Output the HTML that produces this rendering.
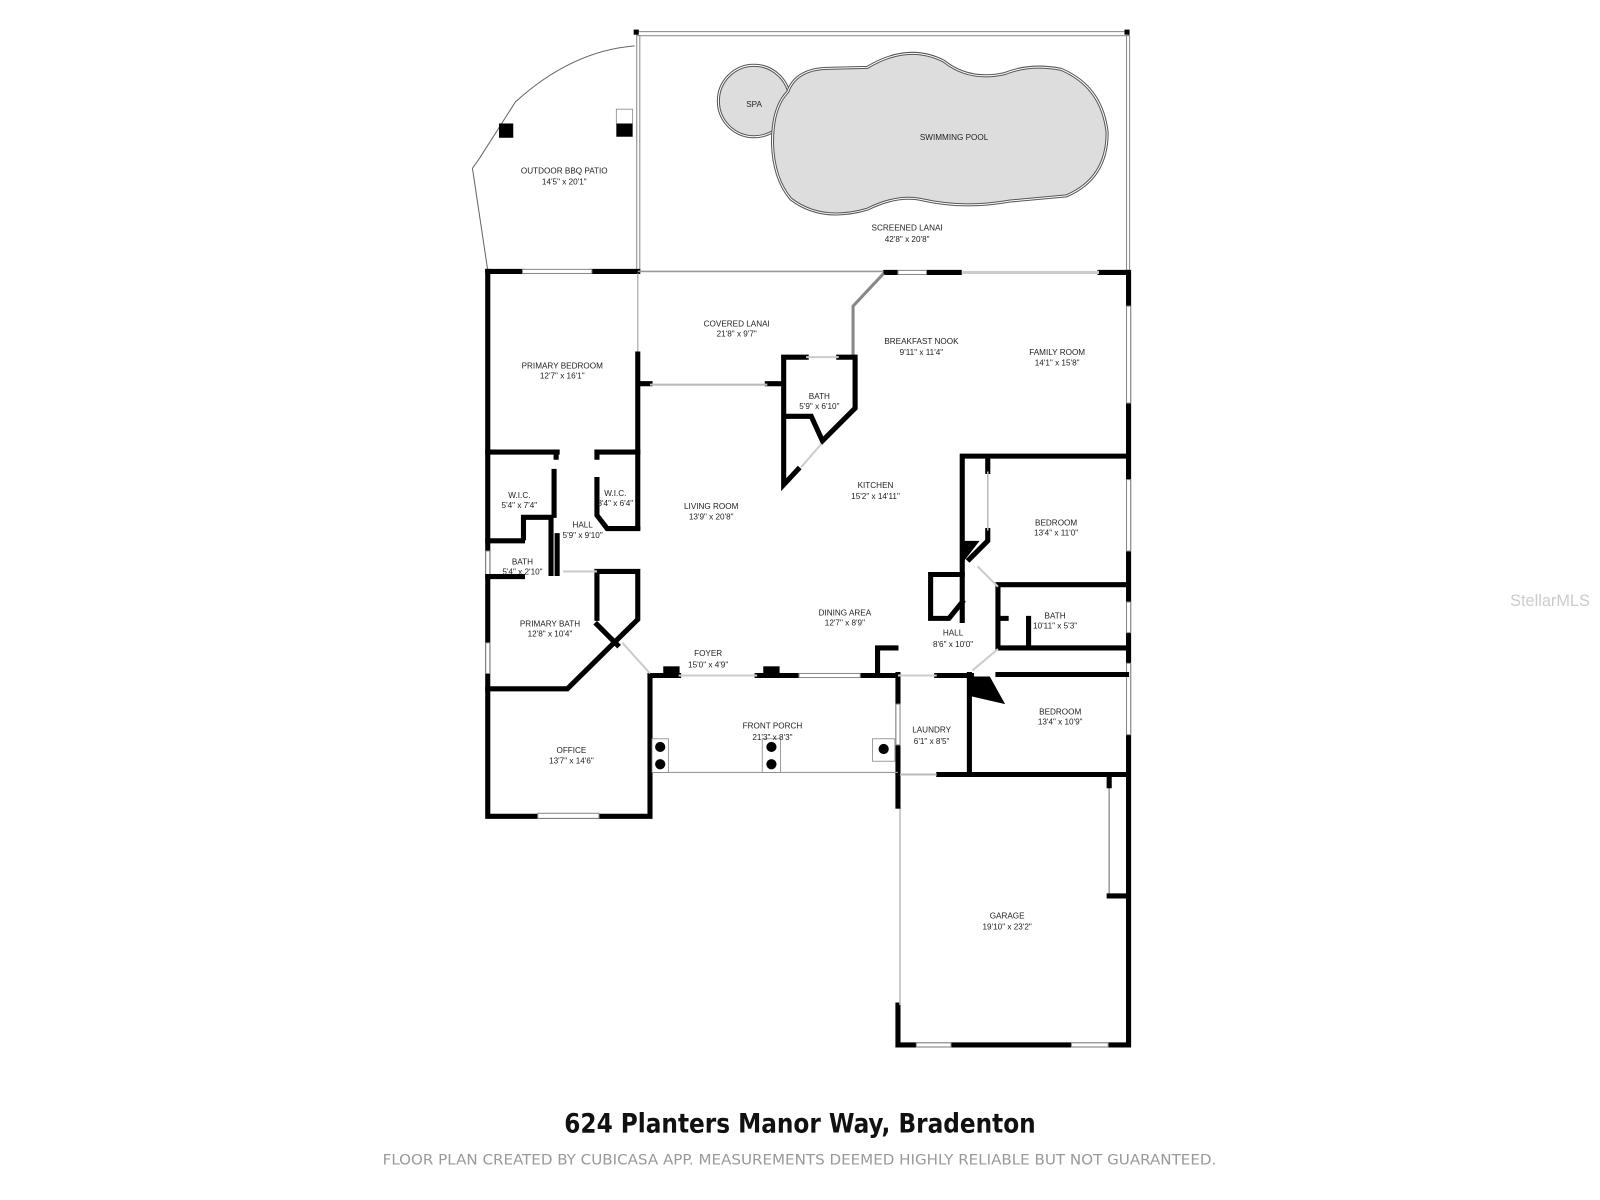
<!DOCTYPE html>
<html><head><meta charset="utf-8"><style>
html,body{margin:0;padding:0;background:#fff;width:1600px;height:1200px;overflow:hidden}
svg{display:block}
.t{font-family:"Liberation Sans",sans-serif;font-size:8px;fill:#222;text-anchor:middle}
.w{stroke:#000;stroke-width:5;fill:none;stroke-linecap:square}
.win{stroke:#888;stroke-width:1;fill:#fff}
</style></head><body>
<svg width="1600" height="1200" viewBox="0 0 1568 1176" xmlns="http://www.w3.org/2000/svg">
<rect x="624" y="31" width="482" height="4" class="win"/>
<rect x="621" y="29" width="5" height="5" fill="#000"/><rect x="1102" y="29" width="5" height="5" fill="#000"/>
<rect x="624" y="35" width="3" height="230" class="win"/>
<rect x="1104" y="35" width="3" height="230" class="win"/>
<path d="M622,45 Q560,50 505,100 L470,155 L463,165 L478,265" stroke="#666" stroke-width="1" fill="none"/>
<rect x="489" y="121" width="14" height="14" fill="#000"/>
<rect x="604" y="121" width="16" height="13" fill="#000"/>
<rect x="604" y="107" width="16" height="14" fill="#fff" stroke="#888" stroke-width="0.8"/>
<circle cx="739" cy="99" r="35" fill="#ddd" stroke="#555" stroke-width="3"/>
<circle cx="739" cy="99" r="35" fill="none" stroke="#fff" stroke-width="1"/>
<path d="M772,90 Q780,68 810,67 L850,66 Q890,42 925,60 Q950,80 985,72 Q1010,62 1040,68 Q1080,85 1085,130 Q1085,175 1045,192 L990,197 Q945,205 905,196 Q880,190 850,205 Q805,218 775,195 Q758,175 757,140 Q757,105 772,90 Z" fill="#ddd" stroke="#555" stroke-width="3"/>
<path d="M772,90 Q780,68 810,67 L850,66 Q890,42 925,60 Q950,80 985,72 Q1010,62 1040,68 Q1080,85 1085,130 Q1085,175 1045,192 L990,197 Q945,205 905,196 Q880,190 850,205 Q805,218 775,195 Q758,175 757,140 Q757,105 772,90 Z" fill="none" stroke="#fff" stroke-width="1"/>
<path class="w" d="M478,266 L512,266 M580,266 L625,266 M868,267 L878,267 M910,267 L940,267 M1078,267 L1104,267"/>
<rect x="512" y="264" width="68" height="4" class="win"/>
<rect x="880" y="265" width="28" height="4" class="win"/>
<line x1="625" y1="266" x2="866" y2="266" stroke="#999" stroke-width="1.5"/>
<line x1="943" y1="267" x2="1077" y2="267" stroke="#ccc" stroke-width="3"/>
<path d="M866,268 L836,300 L836,350" stroke="#888" stroke-width="3" fill="none"/>
<path class="w" d="M478,266 L478,800 L637,800 L637,663"/>
<rect x="527" y="797" width="60" height="5" class="win"/>
<rect x="476" y="540" width="4" height="26" class="win"/>
<rect x="476" y="630" width="4" height="30" class="win"/>
<path class="w" d="M1106,267 L1106,1024 L880,1024 L880,985"/>
<rect x="1104" y="300" width="4" height="95" class="win"/>
<rect x="1104" y="470" width="4" height="70" class="win"/>
<rect x="1104" y="590" width="4" height="30" class="win"/>
<rect x="1104" y="650" width="4" height="70" class="win"/>
<rect x="898" y="1022" width="34" height="4" class="win"/>
<rect x="1050" y="1022" width="36" height="4" class="win"/>
<line x1="882" y1="790" x2="882" y2="985" stroke="#bbb" stroke-width="1.5"/>
<path class="w" d="M880,760 L880,790"/>
<path class="w" d="M880,661 L880,757"/>
<rect x="878" y="690" width="4" height="40" class="win"/>
<line x1="1087" y1="765" x2="1087" y2="878" stroke="#999" stroke-width="1.5"/>
<path class="w" d="M1087,878 L1104,878 M1087,762 L1087,770"/>
<path class="w" d="M920,759 L1104,759"/>
<line x1="882" y1="759" x2="918" y2="759" stroke="#bbb" stroke-width="2"/>
<line x1="625" y1="268" x2="625" y2="347" stroke="#bbb" stroke-width="1.5"/>
<path class="w" d="M625,347 L625,517 M625,376 L637,376 M752,376 L766,376"/>
<line x1="637" y1="377" x2="752" y2="377" stroke="#bbb" stroke-width="2"/>
<path class="w" d="M768,376 L768,350 L790,350 M822,350 L838,350 L838,400 L806,432 L795,408 L770,408 M768,376 L768,475 L782,460"/>
<line x1="790" y1="350" x2="822" y2="350" stroke="#ccc" stroke-width="2"/>
<line x1="785" y1="458" x2="805" y2="435" stroke="#ccc" stroke-width="2"/>
<path class="w" d="M478,443 L546,443 M585,443 L625,443 M545,443 L545,448 M585,443 L585,448"/>
<path class="w" d="M543,462 L543,505 M513,527 L513,507 L540,507 L540,562 M478,530 L512,530 M478,565 L512,565 M546,525 L546,562 M585,470 L585,505 L595,518 L625,518"/>
<path class="w" d="M585,560 L625,560 L625,607 L556,675 L478,675 M585,560 L585,606 M585,612 L605,632"/>
<line x1="552" y1="560" x2="585" y2="560" stroke="#ccc" stroke-width="2"/>
<path class="w" d="M637,662 L665,662 M742,662 L782,662 M843,662 L880,662 M860,662 L860,635 L878,635 M918,662 L952,662"/>
<rect x="650" y="653" width="16" height="8" fill="#000"/>
<rect x="748" y="653" width="16" height="8" fill="#000"/>
<rect x="783" y="660" width="60" height="4" class="win"/>
<line x1="665" y1="662" x2="742" y2="662" stroke="#ccc" stroke-width="2"/>
<line x1="610" y1="630" x2="637" y2="660" stroke="#ccc" stroke-width="2"/>
<line x1="880" y1="662" x2="918" y2="662" stroke="#ccc" stroke-width="2"/>
<line x1="640" y1="757" x2="880" y2="757" stroke="#999" stroke-width="1.2"/>
<rect x="639" y="724" width="16" height="33" fill="#fff" stroke="#888" stroke-width="0.8"/>
<circle cx="647" cy="732" r="5" fill="#000"/><circle cx="647" cy="749" r="5" fill="#000"/>
<rect x="747" y="724" width="18" height="33" fill="#fff" stroke="#888" stroke-width="0.8"/>
<circle cx="756" cy="732" r="5" fill="#000"/><circle cx="756" cy="749" r="5" fill="#000"/>
<rect x="855" y="724" width="22" height="22" fill="#fff" stroke="#888" stroke-width="0.8"/>
<circle cx="866" cy="734" r="5" fill="#000"/>
<path class="w" d="M943,447 L1104,447 M943,447 L943,530 M968,447 L968,462 M968,520 L968,530 L950,548 M943,530 L943,608 M978,573 L1104,573 M978,573 L978,635 L1104,635 M1008,606 L1008,635 M978,606 L986,606 M950,661 L950,757 M1104,661 L978,661"/>
<line x1="968" y1="462" x2="968" y2="520" stroke="#bbb" stroke-width="1.5"/>
<polygon points="943,530 960,530 943,552" fill="#000"/>
<polygon points="950,663 970,663 985,690 950,682" fill="#000"/>
<path class="w" d="M943,563 L912,563 L912,606 L930,606 L943,590"/>
<line x1="958" y1="555" x2="978" y2="575" stroke="#ccc" stroke-width="2"/>
<line x1="953" y1="657" x2="978" y2="636" stroke="#ccc" stroke-width="2"/>
<text class="t" x="553" y="170">OUTDOOR BBQ PATIO</text><text class="t" x="553" y="181">14'5" x 20'1"</text>
<text class="t" x="739" y="105">SPA</text>
<text class="t" x="935" y="137">SWIMMING POOL</text>
<text class="t" x="889" y="226">SCREENED LANAI</text><text class="t" x="889" y="237">42'8" x 20'8"</text>
<text class="t" x="722" y="320">COVERED LANAI</text><text class="t" x="722" y="330">21'8" x 9'7"</text>
<text class="t" x="903" y="337">BREAKFAST NOOK</text><text class="t" x="903" y="348">9'11" x 11'4"</text>
<text class="t" x="1036" y="348">FAMILY ROOM</text><text class="t" x="1036" y="358">14'1" x 15'8"</text>
<text class="t" x="551" y="361">PRIMARY BEDROOM</text><text class="t" x="551" y="371">12'7" x 16'1"</text>
<text class="t" x="803" y="391">BATH</text><text class="t" x="803" y="401">5'9" x 6'10"</text>
<text class="t" x="858" y="478">KITCHEN</text><text class="t" x="858" y="489">15'2" x 14'11"</text>
<text class="t" x="509" y="488">W.I.C.</text><text class="t" x="509" y="498">5'4" x 7'4"</text>
<text class="t" x="603" y="486">W.I.C.</text><text class="t" x="603" y="496">3'4" x 6'4"</text>
<text class="t" x="697" y="499">LIVING ROOM</text><text class="t" x="697" y="509">13'9" x 20'8"</text>
<text class="t" x="571" y="517">HALL</text><text class="t" x="571" y="527">5'9" x 9'10"</text>
<text class="t" x="1035" y="515">BEDROOM</text><text class="t" x="1035" y="525">13'4" x 11'0"</text>
<text class="t" x="512" y="553">BATH</text><text class="t" x="512" y="563">5'4" x 2'10"</text>
<text class="t" x="828" y="603">DINING AREA</text><text class="t" x="828" y="613">12'7" x 8'9"</text>
<text class="t" x="1034" y="606">BATH</text><text class="t" x="1034" y="616">10'11" x 5'3"</text>
<text class="t" x="539" y="614">PRIMARY BATH</text><text class="t" x="539" y="624">12'8" x 10'4"</text>
<text class="t" x="934" y="623">HALL</text><text class="t" x="934" y="634">8'6" x 10'0"</text>
<text class="t" x="694" y="643">FOYER</text><text class="t" x="694" y="654">15'0" x 4'9"</text>
<text class="t" x="1039" y="700">BEDROOM</text><text class="t" x="1039" y="710">13'4" x 10'9"</text>
<text class="t" x="757" y="714">FRONT PORCH</text><text class="t" x="757" y="725">21'3" x 8'3"</text>
<text class="t" x="913" y="718">LAUNDRY</text><text class="t" x="913" y="729">6'1" x 8'5"</text>
<text class="t" x="560" y="738">OFFICE</text><text class="t" x="560" y="748">13'7" x 14'6"</text>
<text class="t" x="987" y="900">GARAGE</text><text class="t" x="987" y="911">19'10" x 23'2"</text>
<text x="1519" y="594" style="font-family:'Liberation Sans',sans-serif;font-size:16px;fill:#ccc;text-anchor:middle">StellarMLS</text>
<text x="553" y="1110" textLength="462" lengthAdjust="spacingAndGlyphs" style="font-family:'DejaVu Sans Condensed','DejaVu Sans',sans-serif;font-size:26px;font-weight:600;fill:#111">624 Planters Manor Way, Bradenton</text>
<text x="375" y="1141" textLength="817" lengthAdjust="spacingAndGlyphs" style="font-family:'DejaVu Sans Condensed','DejaVu Sans',sans-serif;font-size:14px;fill:#999">FLOOR PLAN CREATED BY CUBICASA APP. MEASUREMENTS DEEMED HIGHLY RELIABLE BUT NOT GUARANTEED.</text>
</svg>
</body></html>
